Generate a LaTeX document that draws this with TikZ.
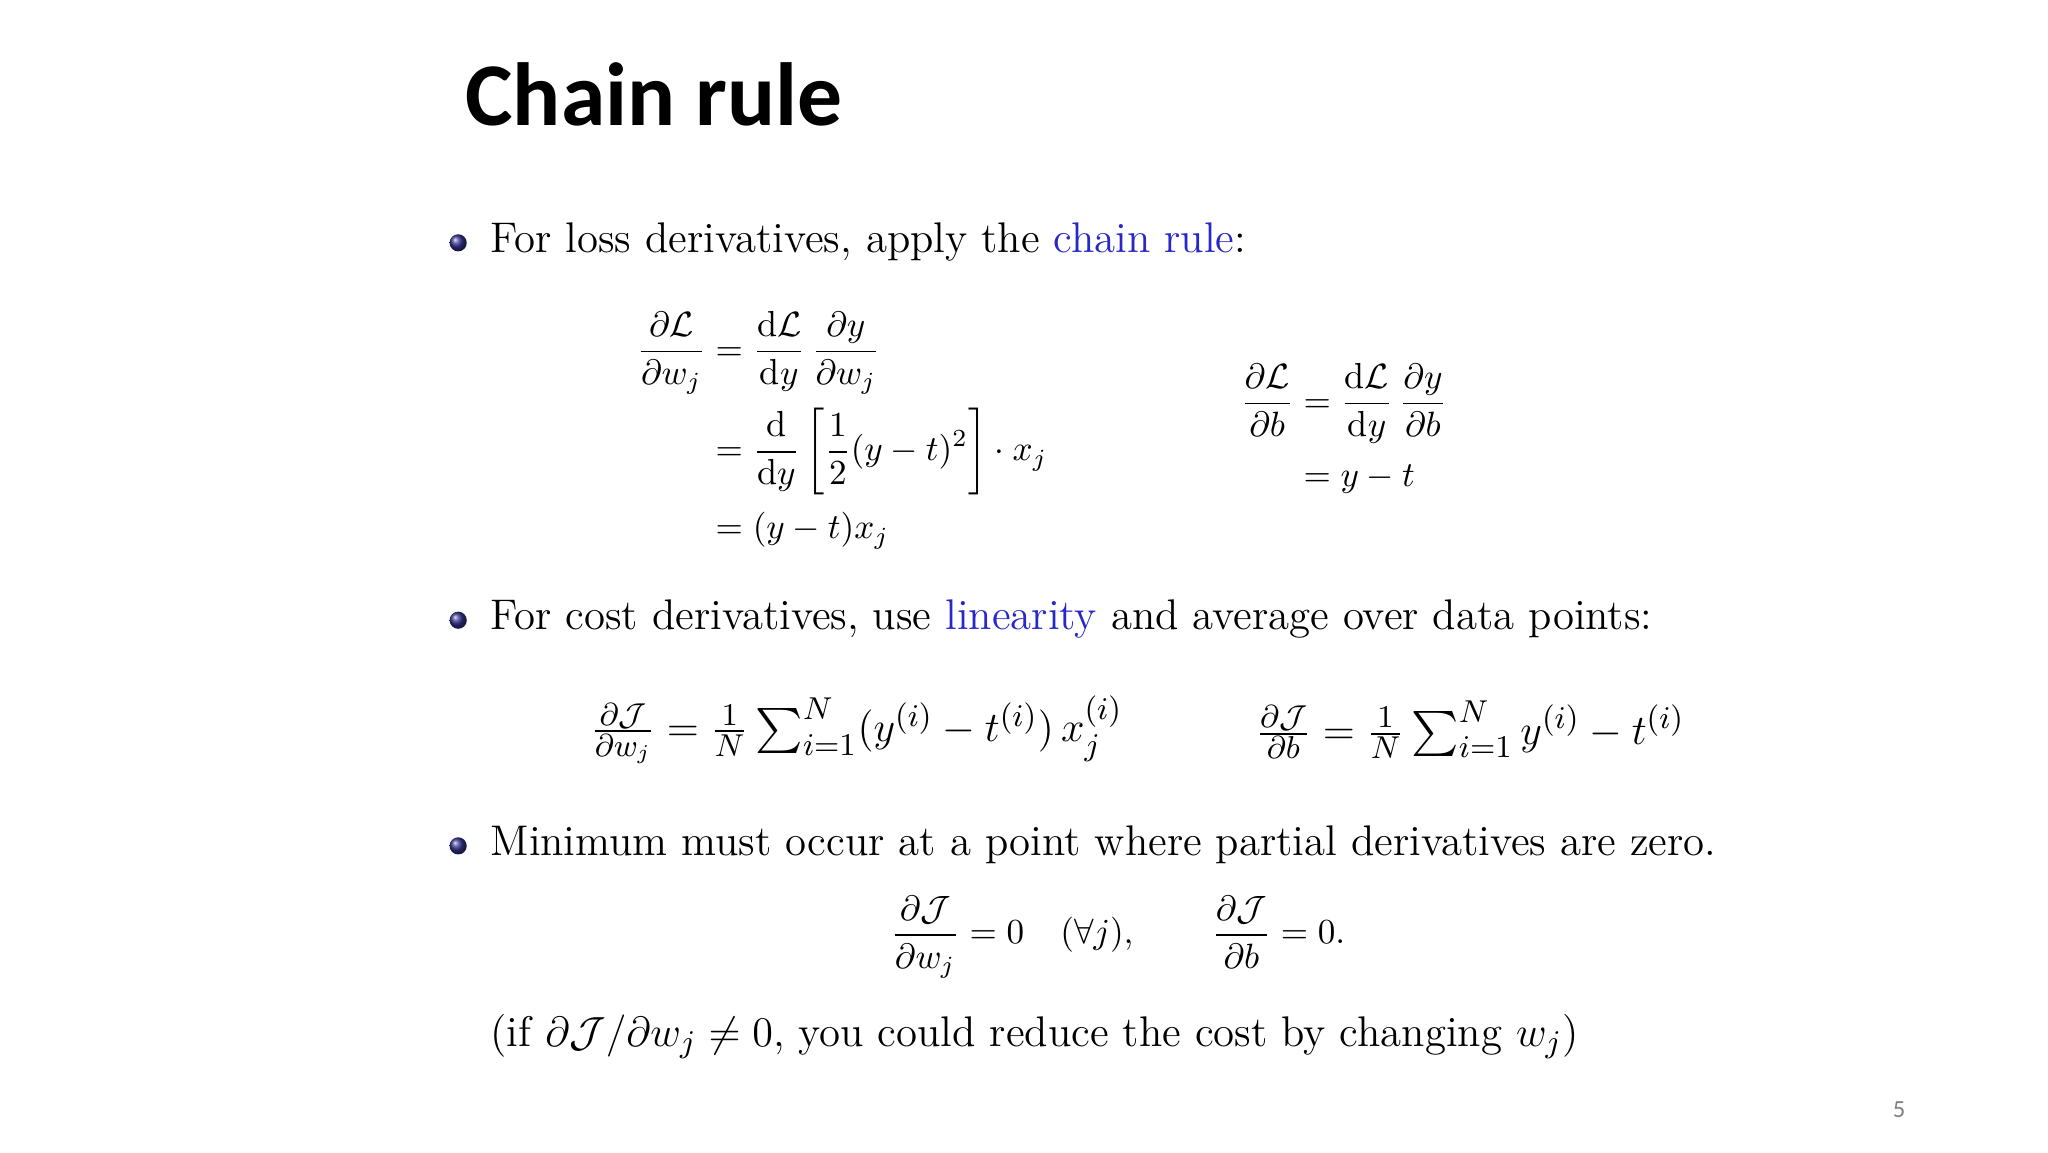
\documentclass[tikz,border=0pt]{standalone}
\usepackage{amsmath,amssymb}
\usepackage{fontspec}
\newfontfamily\titlefont{Carlito}
\newfontfamily\pagefont{Carlito}
\definecolor{linkblue}{RGB}{40,40,200}
\definecolor{ballblue}{RGB}{50,50,140}
\tikzset{
  body/.style={anchor=base west,inner sep=0pt,font=\fontsize{12.2}{14}\selectfont},
  eqn/.style={inner sep=0pt,font=\fontsize{10.3}{12}\selectfont},
  eqrow/.style={inner sep=0pt,font=\fontsize{12.8}{14}\selectfont},
}
\newcommand{\mybullet}[2]{\shade[ball color=ballblue] (#1,#2) circle (6.5);}
\begin{document}
\begin{tikzpicture}[x=0.013196cm,y=-0.013196cm]
\useasboundingbox (0,0) rectangle (1552,873);
\begin{scope}[xshift=-0.05cm]
\node[anchor=base west,inner sep=0pt,font=\titlefont\bfseries\fontsize{25.5}{28}\selectfont] (title) at (356,95) {Chain rule};

\mybullet{351}{184}
\node[body] (b1) at (375,191) {For loss derivatives, apply the \textcolor{linkblue}{chain rule}:};

\node[eqn] (e1) at (642,327) {$\begin{aligned}
\frac{\partial\mathcal{L}}{\partial w_j} &= \frac{\mathrm{d}\mathcal{L}}{\mathrm{d}y}\,\frac{\partial y}{\partial w_j}\\
&= \frac{\mathrm{d}}{\mathrm{d}y}\left[\frac{1}{2}(y-t)^2\right]\cdot x_j\\
&= (y-t)x_j
\end{aligned}$};
\node[eqn] (e2) at (1022,327) {$\begin{aligned}
\frac{\partial\mathcal{L}}{\partial b} &= \frac{\mathrm{d}\mathcal{L}}{\mathrm{d}y}\,\frac{\partial y}{\partial b}\\
&= y-t
\end{aligned}$};

\mybullet{351}{470}
\node[body] (b2) at (375,477) {For cost derivatives, use \textcolor{linkblue}{linearity} and average over data points:};

\node[eqrow] (e3) at (653,553) {$\tfrac{\partial\mathcal{J}}{\partial w_j} = \tfrac{1}{N}\sum_{i=1}^{N}(y^{(i)}-t^{(i)})\,x_j^{(i)}$};
\node[eqrow] (e4) at (1118,553) {$\tfrac{\partial\mathcal{J}}{\partial b} = \tfrac{1}{N}\sum_{i=1}^{N}y^{(i)}-t^{(i)}$};

\mybullet{351}{641}
\node[body] (b3) at (375,648) {Minimum must occur at a point where partial derivatives are zero.};

\node[eqn] (e5) at (851,710) {$\displaystyle\frac{\partial\mathcal{J}}{\partial w_j}=0\quad(\forall j),\qquad \frac{\partial\mathcal{J}}{\partial b}=0.$};

\node[body] (b4) at (375,793) {(if $\partial\mathcal{J}/\partial w_j\neq 0$, you could reduce the cost by changing $w_j$)};

\node[anchor=base,inner sep=0pt,text=gray,font=\pagefont\fontsize{7}{8}\selectfont] (pg) at (1443,847) {5};
\end{scope}
\end{tikzpicture}
\end{document}
